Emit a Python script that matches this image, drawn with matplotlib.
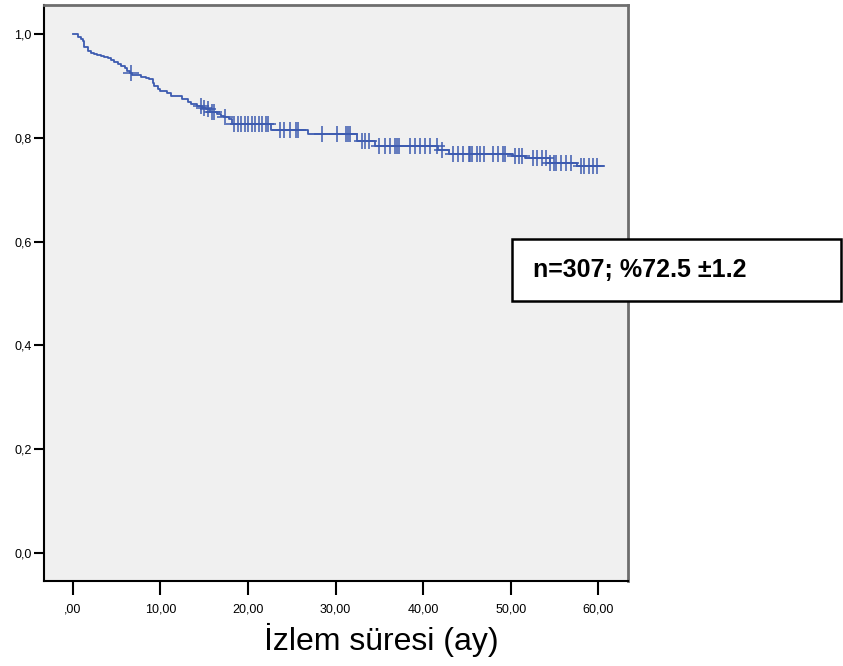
import matplotlib
matplotlib.use("Agg")
import matplotlib.pyplot as plt
from matplotlib.patches import Rectangle
import numpy as np

plt.rcParams['font.family'] = ['Liberation Sans', 'DejaVu Sans']

# Kaplan-Meier step points (time in months, survival)
event_times = [0.0, 0.6, 0.9, 1.1, 1.3, 1.7, 2.1, 2.4, 2.8, 3.2, 3.6, 4.0,
               4.4, 4.7, 5.1, 5.5, 5.9, 6.2, 6.5, 6.8, 7.8, 8.3, 8.7, 9.1,
               9.3, 9.7, 10.0, 10.8, 11.2, 12.5, 13.1, 13.5, 14.2, 14.8,
               15.2, 15.7, 16.5, 16.9, 17.3, 17.8, 18.2, 22.6, 26.9, 32.5,
               34.5, 41.7, 42.9, 50.3, 51.6, 54.5, 57.6]
survival = [1.000, 0.995, 0.991, 0.987, 0.975, 0.967, 0.964, 0.962, 0.960,
            0.958, 0.955, 0.953, 0.950, 0.946, 0.942, 0.938, 0.934, 0.929,
            0.925, 0.921, 0.918, 0.916, 0.913, 0.906, 0.900, 0.895, 0.890,
            0.887, 0.881, 0.874, 0.870, 0.865, 0.862, 0.858, 0.855, 0.849,
            0.846, 0.843, 0.840, 0.836, 0.826, 0.815, 0.808, 0.794, 0.785,
            0.777, 0.769, 0.765, 0.762, 0.752, 0.746]
end_time = 60.5

# censored observations (time in months)
censor_times = [6.6, 14.6, 15.0, 15.4, 15.9, 16.1, 17.4,
                18.4, 18.8, 19.2, 19.6, 20.0, 20.4, 20.8, 21.2, 21.6, 22.0, 22.3,
                23.7, 24.1, 24.8, 25.5, 25.7,
                28.5, 30.2, 31.2, 31.4, 31.7,
                33.0, 33.4, 33.8, 35.0, 35.6, 36.2, 36.8, 37.0, 37.2,
                38.5, 39.1, 39.6, 40.2, 40.8, 41.6, 42.2,
                43.4, 44.0, 44.5, 45.2, 45.4, 45.6, 46.2, 46.5, 46.9, 48.0, 48.6,
                49.1, 49.4, 50.5, 50.9, 51.3,
                52.5, 53.0, 53.6, 54.0, 54.5, 54.9, 55.2, 55.7, 56.3, 56.9,
                58.0, 58.4, 58.9, 59.4, 59.8]

x_ticks = [0, 10, 20, 30, 40, 50, 60]
x_labels = [',00', '10,00', '20,00', '30,00', '40,00', '50,00', '60,00']
y_ticks = [0.0, 0.2, 0.4, 0.6, 0.8, 1.0]
y_labels = ['0,0', '0,2', '0,4', '0,6', '0,8', '1,0']

line_color = '#3d5bb0'

fig = plt.figure(figsize=(8.43, 6.66), dpi=100)
ax = fig.add_axes([0.0522, 0.1276, 0.6928, 0.8649])
ax.set_facecolor('#f0f0f0')

t_step = event_times + [end_time]
s_step = survival + [survival[-1]]
ax.step(t_step, s_step, where='post', color=line_color, lw=1.3)

# censor marks sit on the curve
idx = np.searchsorted(event_times, censor_times, side='right') - 1
censor_surv = np.array(survival)[idx]
ax.plot(censor_times, censor_surv, linestyle='none', marker='+', color=line_color,
        markersize=11, markeredgewidth=1.1)

ax.set_xlim(-3.3, 63.4)
ax.set_ylim(-0.054, 1.056)
ax.set_xticks(x_ticks)
ax.set_xticklabels(x_labels, fontsize=9)
ax.set_yticks(y_ticks)
ax.set_yticklabels(y_labels, fontsize=9)
ax.tick_params(axis='x', length=10, width=1.5, pad=6)
ax.tick_params(axis='y', length=7, width=1.5, pad=2)

for side in ['left', 'bottom']:
    ax.spines[side].set_color('black')
    ax.spines[side].set_linewidth(1.5)
for side in ['top', 'right']:
    ax.spines[side].set_color('#6e6e6e')
    ax.spines[side].set_linewidth(2)

ax.set_xlabel('İzlem süresi (ay)', fontsize=23)
ax.xaxis.set_label_coords(0.577, -0.102, transform=ax.transAxes)
ax.xaxis.label.set_va('center')

# annotation box
fig.patches.append(Rectangle((0.607, 0.548), 0.391, 0.093, transform=fig.transFigure,
                             facecolor='white', edgecolor='black', lw=1.8, zorder=5))
fig.text(0.632, 0.5945, 'n=307; %72.5 ±1.2', fontsize=18, fontweight='bold',
         va='center', ha='left', zorder=6)

fig.savefig('out.png', dpi=100)
